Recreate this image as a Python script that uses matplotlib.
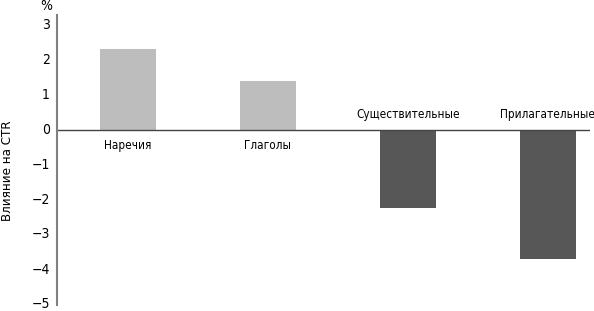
import matplotlib.pyplot as plt
import matplotlib.transforms as mtrans
import numpy as np

cats = ['Наречия', 'Глаголы', 'Существительные', 'Прилагательные']
vals = [2.32, 1.39, -2.24, -3.68]
cols = ['#bdbdbd', '#bdbdbd', '#575757', '#575757']
yticks = list(range(-5, 4))

plt.rcParams['font.family'] = ['DejaVu Sans']
plt.rcParams['font.stretch'] = 'condensed'

fig = plt.figure(figsize=(5.94, 3.11), dpi=100)
ax = fig.add_axes([57/594, 6/311, 533/594, 290.5/311])
x = np.arange(len(cats))
ax.bar(x, vals, width=0.4, color=cols)
ax.axhline(0, color='#444444', lw=1)
ax.set_xlim(-0.507, 3.3)
ax.set_ylim(-5, 3.3)
ax.set_yticks(yticks)
ax.set_yticklabels([str(v).replace('-', '\u2212') for v in yticks], fontsize=10)
ax.tick_params(axis='y', length=0, pad=5)
off = mtrans.ScaledTranslation(0, 2/100, fig.dpi_scale_trans)
for lab in ax.get_yticklabels():
    lab.set_transform(lab.get_transform() + off)
ax.set_xticks([])
for s in ['top', 'right', 'bottom']:
    ax.spines[s].set_visible(False)
ax.spines['left'].set_color('#808080')
ax.spines['left'].set_linewidth(1.5)
for i, v in enumerate(vals):
    if v > 0:
        ax.text(i, -0.25, cats[i], ha='center', va='top', fontsize=8.5)
    else:
        ax.text(i, 0.25, cats[i], ha='center', va='bottom', fontsize=8.5)
fig.text(46/594, 1 - 6/311, '%', ha='center', va='center', fontsize=10)
fig.text(8/594, 1 - 171/311, 'Влияние на CTR', rotation=90, ha='center', va='center', fontsize=9.5)
fig.savefig('out.png', dpi=100)
